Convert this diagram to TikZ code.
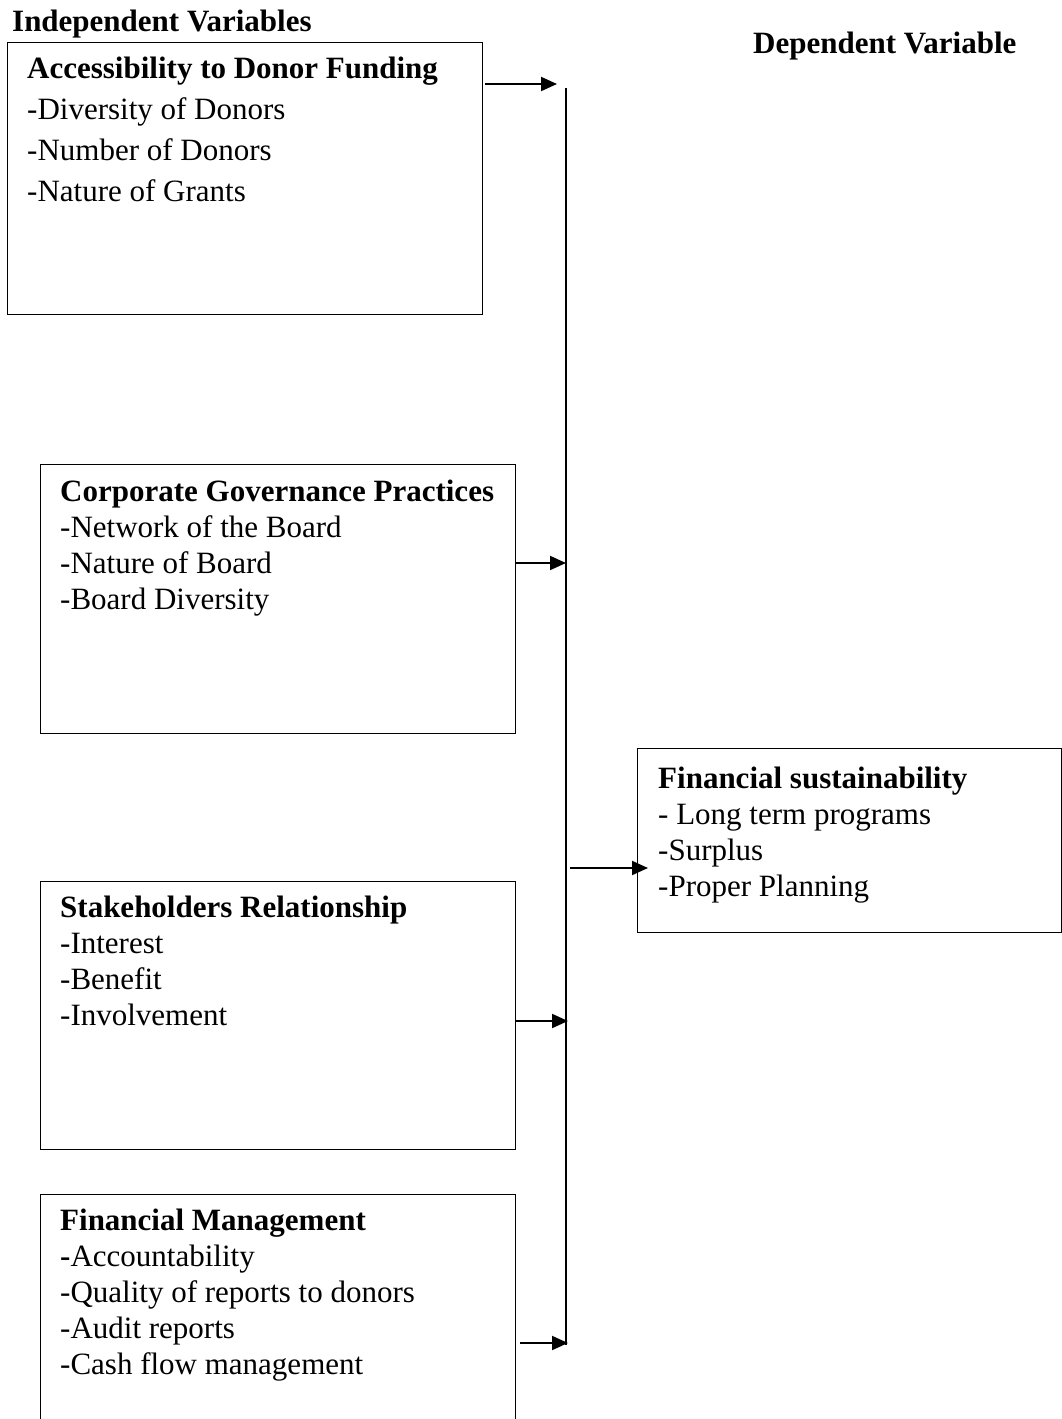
\documentclass[tikz,border=0pt]{standalone}
\usepackage{fontspec}
\setmainfont{Liberation Serif}
\usetikzlibrary{arrows.meta,positioning}

\begin{document}
\begin{tikzpicture}[x=1pt,y=-1pt,
  varbox/.style={draw,line width=1.2pt,anchor=north west,inner sep=0pt},
  boxtext/.style={anchor=north west,inner sep=0pt,align=left,font=\fontsize{31}{36}\selectfont},
  heading/.style={anchor=base west,inner sep=0pt,font=\fontsize{31}{36}\selectfont\bfseries},
  arr/.style={-{Triangle[length=16pt,width=14pt]},line width=2pt}]
\clip (0,0) rectangle (1062,1419);
\node[heading] (indep) at (12,31) {Independent Variables};
\node[heading] (dep) at (753,53) {Dependent Variable};

\node[varbox,minimum width=475pt,minimum height=272pt] (donor) at (7,42) {};
\node[boxtext,font=\fontsize{31}{41}\selectfont,below right=15pt and 20pt of donor.north west] (donortext)
  {\textbf{Accessibility to Donor Funding}\\-Diversity of Donors\\-Number of Donors\\-Nature of Grants};

\node[varbox,minimum width=475pt,minimum height=269pt] (gov) at (40,464) {};
\node[boxtext,below right=16pt and 20pt of gov.north west] (govtext)
  {\textbf{Corporate Governance Practices}\\-Network of the Board\\-Nature of Board\\-Board Diversity};

\node[varbox,minimum width=475pt,minimum height=268pt] (stake) at (40,881) {};
\node[boxtext,below right=15pt and 20pt of stake.north west] (staketext)
  {\textbf{Stakeholders Relationship}\\-Interest\\-Benefit\\-Involvement};

\node[varbox,minimum width=475pt,minimum height=260pt] (finman) at (40,1194) {};
\node[boxtext,below right=15pt and 20pt of finman.north west] (finmantext)
  {\textbf{Financial Management}\\\textbf{-}Accountability\\-Quality of reports to donors\\-Audit reports\\-Cash flow management};

\node[varbox,minimum width=424pt,minimum height=184pt] (sustain) at (637,748) {};
\node[boxtext,below right=19pt and 21pt of sustain.north west] (sustaintext)
  {\textbf{Financial sustainability}\\- Long term programs\\-Surplus\\-Proper Planning};

\coordinate (bustop) at (566,88);
\coordinate (busbot) at (566,1345);
\draw[line width=2pt] (bustop) -- (busbot);

\coordinate (donorout) at ([xshift=2pt,yshift=-42pt]donor.north east);
\coordinate (govout) at ([yshift=-99pt]gov.north east);
\coordinate (stakeout) at ([yshift=-140pt]stake.north east);
\coordinate (finmanout) at ([xshift=4pt,yshift=-149pt]finman.north east);
\coordinate (sustainin) at ([xshift=11pt,yshift=-120pt]sustain.north west);

\draw[arr] (donorout) -- ([xshift=-9pt]donorout -| bustop);
\draw[arr] (govout) -- (govout -| bustop);
\draw[arr] (stakeout) -- ([xshift=2pt]stakeout -| bustop);
\draw[arr] (finmanout) -- ([xshift=2pt]finmanout -| bustop);
\draw[arr] ([xshift=4pt]sustainin -| bustop) -- (sustainin);
\end{tikzpicture}
\end{document}
